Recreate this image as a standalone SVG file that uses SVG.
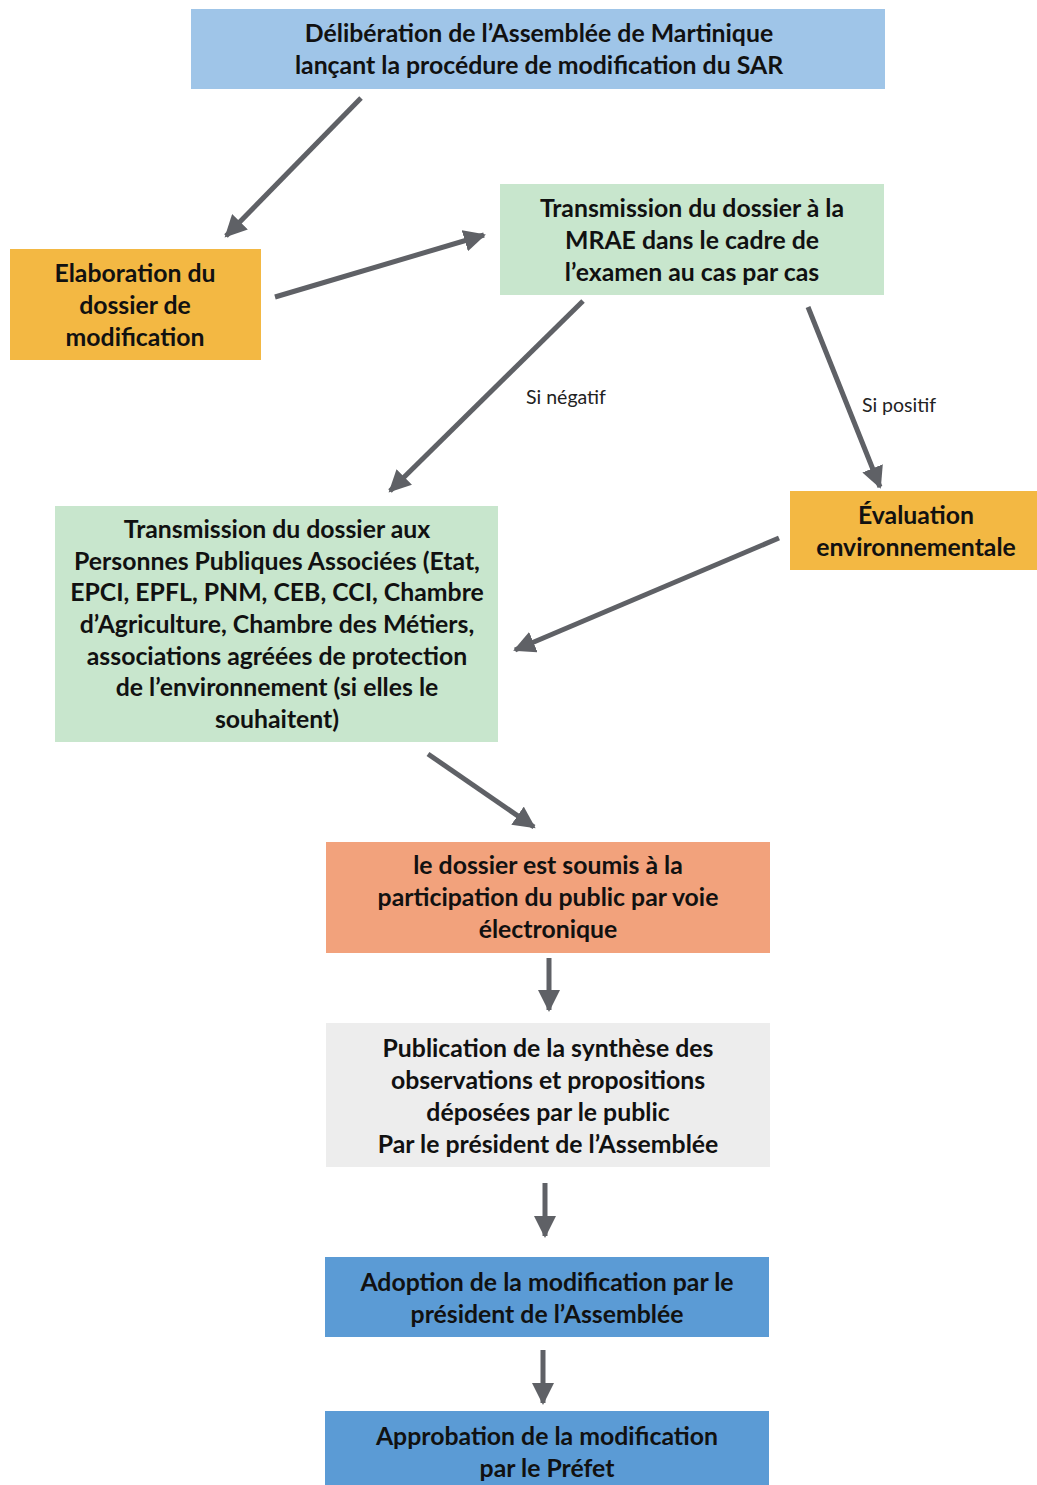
<svg xmlns="http://www.w3.org/2000/svg" width="1037" height="1485" viewBox="0 0 1037 1485">
<style>
.t{font-family:Lato,"Liberation Sans",sans-serif;font-weight:bold;font-size:24.8px;fill:#111;text-anchor:middle}
.l{font-family:Lato,"Liberation Sans",sans-serif;font-size:19.5px;fill:#222;text-anchor:middle}
.c{stroke:#5f6166;stroke-width:5;fill:none;marker-end:url(#ah)}
</style>
<defs>
<marker id="ah" markerUnits="userSpaceOnUse" markerWidth="24" markerHeight="22" refX="20" refY="11" orient="auto">
<path d="M0,0 L22,11 L0,22 Z" fill="#5f6166"/>
</marker>
</defs>
<rect width="1037" height="1485" fill="#ffffff"/>
<g id="n1"><rect x="191" y="9" width="694" height="80" fill="#9fc5e8"/>
<text class="t" x="539" y="42">Délibération de l’Assemblée de Martinique</text>
<text class="t" x="539" y="74">lançant la procédure de modification du SAR</text></g>
<g id="n2"><rect x="10" y="249" width="251" height="111" fill="#f3b843"/>
<text class="t" x="135" y="282">Elaboration du</text>
<text class="t" x="135" y="314">dossier de</text>
<text class="t" x="135" y="346">modification</text></g>
<g id="n3"><rect x="500" y="184" width="384" height="111" fill="#c8e6cd"/>
<text class="t" x="692" y="217">Transmission du dossier à la</text>
<text class="t" x="692" y="249">MRAE dans le cadre de</text>
<text class="t" x="692" y="281">l’examen au cas par cas</text></g>
<g id="n4"><rect x="55" y="506" width="443" height="236" fill="#c8e6cd"/>
<text class="t" x="277" y="538">Transmission du dossier aux</text>
<text class="t" x="277" y="570">Personnes Publiques Associées (Etat,</text>
<text class="t" x="277" y="601">EPCI, EPFL, PNM, CEB, CCI, Chambre</text>
<text class="t" x="277" y="633">d’Agriculture, Chambre des Métiers,</text>
<text class="t" x="277" y="665">associations agréées de protection</text>
<text class="t" x="277" y="696">de l’environnement (si elles le</text>
<text class="t" x="277" y="728">souhaitent)</text></g>
<g id="n5"><rect x="790" y="491" width="247" height="79" fill="#f3b843"/>
<text class="t" x="916" y="524">Évaluation</text>
<text class="t" x="916" y="556">environnementale</text></g>
<g id="n6"><rect x="326" y="842" width="444" height="111" fill="#f2a27c"/>
<text class="t" x="548" y="874">le dossier est soumis à la</text>
<text class="t" x="548" y="906">participation du public par voie</text>
<text class="t" x="548" y="938">électronique</text></g>
<g id="n7"><rect x="326" y="1023" width="444" height="144" fill="#ededed"/>
<text class="t" x="548" y="1057">Publication de la synthèse des</text>
<text class="t" x="548" y="1089">observations et propositions</text>
<text class="t" x="548" y="1121">déposées par le public</text>
<text class="t" x="548" y="1153">Par le président de l’Assemblée</text></g>
<g id="n8"><rect x="325" y="1257" width="444" height="80" fill="#5b9bd5"/>
<text class="t" x="547" y="1291">Adoption de la modification par le</text>
<text class="t" x="547" y="1323">président de l’Assemblée</text></g>
<g id="n9"><rect x="325" y="1411" width="444" height="74" fill="#5b9bd5"/>
<text class="t" x="547" y="1445">Approbation de la modification</text>
<text class="t" x="547" y="1477">par le Préfet</text></g>
<g id="connectors">
<line class="c" x1="361" y1="98" x2="226" y2="236"/>
<line class="c" x1="275" y1="297" x2="484" y2="235"/>
<line class="c" x1="583" y1="301" x2="390" y2="491"/>
<line class="c" x1="808" y1="307" x2="880" y2="487"/>
<line class="c" x1="779" y1="538" x2="515" y2="650"/>
<line class="c" x1="428" y1="754" x2="534" y2="827"/>
<line class="c" x1="549" y1="958" x2="549" y2="1010"/>
<line class="c" x1="545" y1="1183" x2="545" y2="1236"/>
<line class="c" x1="543" y1="1350" x2="543" y2="1403"/>
<text class="l" x="566" y="404">Si négatif</text>
<text class="l" x="899" y="412">Si positif</text>
</g>
</svg>
